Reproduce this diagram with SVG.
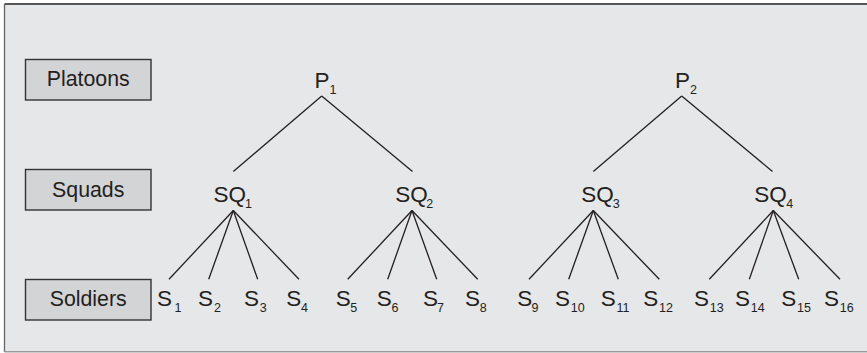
<svg xmlns="http://www.w3.org/2000/svg" width="867" height="353" viewBox="0 0 867 353">
  <style>
    .frame { fill: #e6e7e9; }
    .box { fill: #d3d4d6; stroke: #333; stroke-width: 1.4; }
    .lbl { font-family: "Liberation Sans", Arial, sans-serif; font-size: 21.3px; fill: #231f20; }
    .node { font-family: "Liberation Sans", Arial, sans-serif; font-size: 22.5px; fill: #231f20; }
    .sub { font-size: 12.5px; }
    .edge { stroke: #231f20; stroke-width: 1.3; fill: none; }
  </style>

  <!-- background panel -->
  <rect class="frame" x="4.5" y="4" width="870" height="347.5"/>
  <line x1="4.5" y1="4" x2="867" y2="4" stroke="#555" stroke-width="2"/>
  <line x1="4.5" y1="4" x2="4.5" y2="352" stroke="#666" stroke-width="1.3"/>
  <line x1="4.5" y1="351.8" x2="867" y2="351.8" stroke="#9a9a9a" stroke-width="1.5"/>

  <!-- level legend -->
  <g id="legend-platoons">
    <rect class="box" x="25.5" y="59.5" width="125.5" height="40.5"/>
    <text class="lbl" x="88.2" y="86" text-anchor="middle">Platoons</text>
  </g>
  <g id="legend-squads">
    <rect class="box" x="25.5" y="169.5" width="125.5" height="40.5"/>
    <text class="lbl" x="88.2" y="196.7" text-anchor="middle">Squads</text>
  </g>
  <g id="legend-soldiers">
    <rect class="box" x="25.5" y="279.5" width="125.5" height="40.5"/>
    <text class="lbl" x="88.2" y="306" text-anchor="middle">Soldiers</text>
  </g>

  <!-- tree edges -->
  <g id="connectors">
    <line class="edge" x1="321.7" y1="96" x2="233.3" y2="171.5"/>
    <line class="edge" x1="321.7" y1="96" x2="412.5" y2="171.5"/>
    <line class="edge" x1="681.7" y1="96" x2="593.3" y2="171.5"/>
    <line class="edge" x1="681.7" y1="96" x2="772.5" y2="171.5"/>

    <line class="edge" x1="233.3" y1="210.5" x2="169" y2="279.3"/>
    <line class="edge" x1="233.3" y1="210.5" x2="208.7" y2="279.3"/>
    <line class="edge" x1="233.3" y1="210.5" x2="257.7" y2="279.3"/>
    <line class="edge" x1="233.3" y1="210.5" x2="299" y2="279.3"/>

    <line class="edge" x1="412" y1="210.5" x2="347.7" y2="279.3"/>
    <line class="edge" x1="412" y1="210.5" x2="387.7" y2="279.3"/>
    <line class="edge" x1="412" y1="210.5" x2="436.7" y2="279.3"/>
    <line class="edge" x1="412" y1="210.5" x2="477.7" y2="279.3"/>

    <line class="edge" x1="593.3" y1="210.5" x2="529" y2="279.3"/>
    <line class="edge" x1="593.3" y1="210.5" x2="568.7" y2="279.3"/>
    <line class="edge" x1="593.3" y1="210.5" x2="618.3" y2="279.3"/>
    <line class="edge" x1="593.3" y1="210.5" x2="659.3" y2="279.3"/>

    <line class="edge" x1="773.3" y1="210.5" x2="709.3" y2="279.3"/>
    <line class="edge" x1="773.3" y1="210.5" x2="749.3" y2="279.3"/>
    <line class="edge" x1="773.3" y1="210.5" x2="798.7" y2="279.3"/>
    <line class="edge" x1="773.3" y1="210.5" x2="840" y2="279.3"/>
  </g>

  <!-- platoons -->
  <g id="P1"><text class="node" x="314.5" y="88.3">P<tspan class="sub" x="329.5" y="94.3">1</tspan></text></g>
  <g id="P2"><text class="node" x="675" y="88.3">P<tspan class="sub" x="690" y="94.3">2</tspan></text></g>

  <!-- squads -->
  <g id="SQ1"><text class="node" x="213.5" y="202.3">SQ<tspan class="sub" x="245" y="208.3">1</tspan></text></g>
  <g id="SQ2"><text class="node" x="395.2" y="202.3">SQ<tspan class="sub" x="426.3" y="208.3">2</tspan></text></g>
  <g id="SQ3"><text class="node" x="581.2" y="202.3">SQ<tspan class="sub" x="612.8" y="208.3">3</tspan></text></g>
  <g id="SQ4"><text class="node" x="754.2" y="202.3">SQ<tspan class="sub" x="786.2" y="208.3">4</tspan></text></g>

  <!-- soldiers -->
  <g id="S1"><text class="node" x="157" y="306">S<tspan class="sub" x="174.5" y="311.7">1</tspan></text></g>
  <g id="S2"><text class="node" x="198" y="306">S<tspan class="sub" x="214" y="311.7">2</tspan></text></g>
  <g id="S3"><text class="node" x="244" y="306">S<tspan class="sub" x="259.7" y="311.7">3</tspan></text></g>
  <g id="S4"><text class="node" x="286.3" y="306">S<tspan class="sub" x="301" y="311.7">4</tspan></text></g>
  <g id="S5"><text class="node" x="335.7" y="306">S<tspan class="sub" x="350.2" y="311.7">5</tspan></text></g>
  <g id="S6"><text class="node" x="376.7" y="306">S<tspan class="sub" x="391.4" y="311.7">6</tspan></text></g>
  <g id="S7"><text class="node" x="423" y="306">S<tspan class="sub" x="437" y="311.7">7</tspan></text></g>
  <g id="S8"><text class="node" x="465" y="306">S<tspan class="sub" x="479.7" y="311.7">8</tspan></text></g>
  <g id="S9"><text class="node" x="517.3" y="306">S<tspan class="sub" x="531.4" y="311.7">9</tspan></text></g>
  <g id="S10"><text class="node" x="555" y="306">S<tspan class="sub" x="570.7" y="311.7">10</tspan></text></g>
  <g id="S11"><text class="node" x="600.7" y="306">S<tspan class="sub" x="616.5" y="311.7">11</tspan></text></g>
  <g id="S12"><text class="node" x="643.3" y="306">S<tspan class="sub" x="659" y="311.7">12</tspan></text></g>
  <g id="S13"><text class="node" x="694" y="306">S<tspan class="sub" x="709.7" y="311.7">13</tspan></text></g>
  <g id="S14"><text class="node" x="735" y="306">S<tspan class="sub" x="750.7" y="311.7">14</tspan></text></g>
  <g id="S15"><text class="node" x="781.3" y="306">S<tspan class="sub" x="797" y="311.7">15</tspan></text></g>
  <g id="S16"><text class="node" x="824" y="306">S<tspan class="sub" x="839.7" y="311.7">16</tspan></text></g>
</svg>
